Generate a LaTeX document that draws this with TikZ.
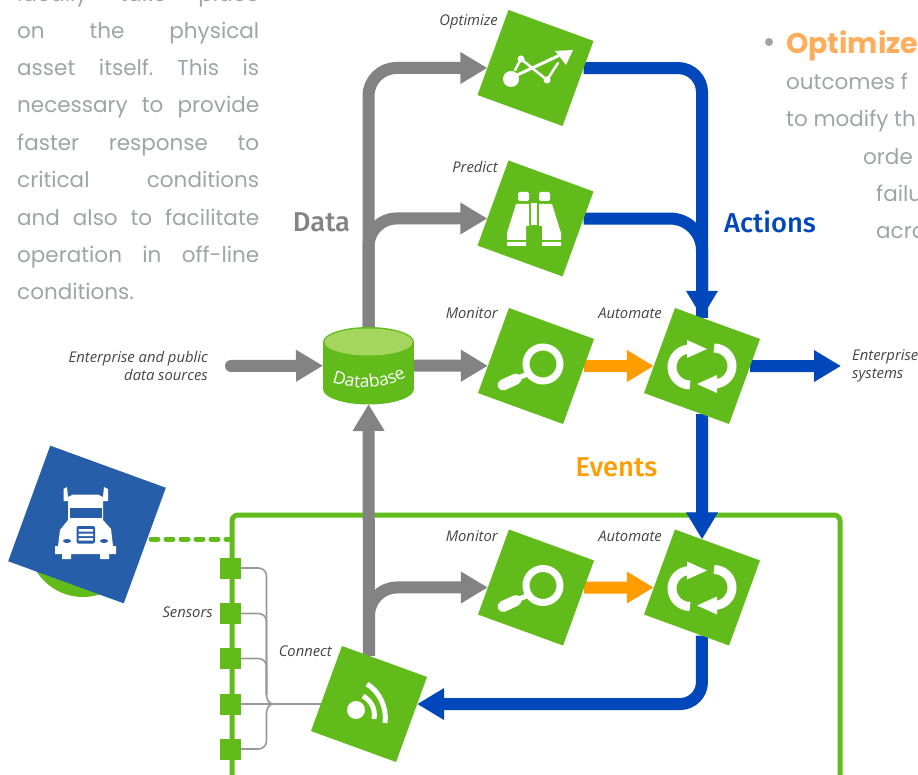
\documentclass[tikz,border=0pt]{standalone}
\usepackage{fontspec}
\usetikzlibrary{arrows.meta,backgrounds,decorations.text}
\setmainfont{Open Sans}
\newfontfamily\bodyf{Poppins}
\newfontfamily\boldf{Poppins Bold}
\newfontfamily\headf{Fira Sans Medium}
\definecolor{lime}{HTML}{61BC1B}
\definecolor{limel}{HTML}{A4D65E}
\definecolor{roy}{HTML}{0047BB}
\definecolor{truckb}{HTML}{275EAA}
\definecolor{grayl}{HTML}{838383}
\definecolor{thin}{HTML}{999999}
\definecolor{oran}{HTML}{FF9D00}
\definecolor{bodyc}{HTML}{A0A4A8}
\definecolor{optc}{HTML}{FFAD5C}
\definecolor{lab}{HTML}{444444}
\tikzset{
  sq/.style={fill=lime,rotate=-20,minimum size=90.5pt,inner sep=0pt,outer sep=0pt,draw=none},
  trucksq/.style={fill=truckb,rotate=-20,minimum size=123pt,inner sep=0pt,outer sep=0pt},
  sensor/.style={fill=lime,minimum size=21pt,inner sep=0pt,outer sep=0pt},
  lbl/.style={text=lab,font=\fontsize{14.8}{18}\selectfont\itshape,inner sep=0pt},
  bodyl/.style={text=bodyc,font=\fontsize{21.5}{24}\bodyf,inner sep=0pt,anchor=base west},
  head/.style={font=\fontsize{27.3}{30}\headf,inner sep=0pt},
  conn/.style={line width=12pt,-{Triangle[length=27pt,width=30pt]}},
  plain/.style={line width=12pt},
  wire/.style={draw=thin,line width=1.6pt,rounded corners=8pt},
  ico/.style={draw=white,line cap=round},
}
\newcommand{\jl}[1]{\makebox[242pt][s]{#1}}
\newcommand{\magicon}{%
  \draw[draw=white,line width=7pt] (7,-2) circle (17);
  \draw[draw=white,line width=5pt] (-6,7) -- (-18,12);
  \draw[draw=white,line width=11pt,line cap=round] (-20,13) -- (-33,19);
}
\newcommand{\cycicon}{%
  \draw[draw=white,line width=9pt] (-12,19) arc[start angle=-90,end angle=-270,x radius=18,y radius=-18];
  \fill[white] (-15,-26) -- (-15,-8) -- (5,-17) -- cycle;
  \draw[draw=white,line width=9pt] (12,-18) arc[start angle=90,end angle=-90,x radius=18,y radius=-18];
  \fill[white] (15,9) -- (15,27) -- (-5,18) -- cycle;
}
\begin{document}
\begin{tikzpicture}[x=1pt,y=-1pt]
\useasboundingbox (0,0) rectangle (918,775);
\clip (0,0) rectangle (918,775);
% left column text
\node[bodyl] (t0) at (17,2) {\jl{ideally\hfill take\hfill place}};
\node[bodyl] (t1) at (17,39) {\jl{on\hfill the\hfill physical}};
\node[bodyl] (t2) at (17,76) {\jl{asset\hfill itself.\hfill This\hfill is}};
\node[bodyl] (t3) at (17,113) {\jl{necessary\hfill to\hfill provide}};
\node[bodyl] (t4) at (17,151) {\jl{faster\hfill response\hfill to}};
\node[bodyl] (t5) at (17,188) {\jl{critical\hfill conditions}};
\node[bodyl] (t6) at (17,226) {\jl{and\hfill also\hfill to\hfill facilitate}};
\node[bodyl] (t7) at (17,263) {\jl{operation\hfill in\hfill off-line}};
\node[bodyl] (t8) at (17,300) {conditions.};
% right column text
\node[circle,fill=bodyc,minimum size=8pt,inner sep=0pt] (bul) at (769,42) {};
\node[inner sep=0pt,anchor=base west,text=optc,font=\fontsize{28.5}{32}\boldf] (r0) at (786,53.5) {Optimize};
\node[bodyl] (r1) at (786,90) {outcomes f};
\node[bodyl] (r2) at (786,127) {to modify th};
\node[bodyl] (r3) at (863,165) {orde};
\node[bodyl] (r4) at (876,202) {failu};
\node[bodyl] (r5) at (876,239) {acro};
% coordinates
\coordinate (ents) at (231,366);
\coordinate (entr) at (841,366);
\coordinate (tk) at (151,539);
\coordinate (fr) at (229,539);
\coordinate (j1) at (266.5,695);
\coordinate (j2) at (273.5,704);
\coordinate (j3) at (266.5,713);
% truck
\fill[lime] (83,542) circle (55);
\node[trucksq] (truck) at (87,524.5) {};
\fill[white] (63.5,489) -- (67,487) -- (68,497) -- (73,494.5) -- (98,494.5) -- (103,497) -- (104,487) -- (108,489) -- (108,501) -- (103,501) -- (103,520) -- (111,529) -- (113,546) -- (116,546) -- (116,554) -- (109,554) -- (109,559) -- (100,559) -- (100,554) -- (71,554) -- (71,559) -- (62,559) -- (62,554) -- (55,554) -- (55,546) -- (58,546) -- (60,530) -- (68,520) -- (68,501) -- (63.5,501) -- cycle;
\fill[truckb] (70,508) rectangle (102,518);
\fill[truckb,rounded corners=2pt] (76.5,526) rectangle (95,543.5);
\fill[white] (78.5,529) rectangle (93,531.5) (78.5,533.5) rectangle (93,536) (78.5,538) rectangle (93,540.5);
\fill[truckb] (67,541) ellipse (4 and 2) (104,541) ellipse (4 and 2);
% sensors
\node[sensor] (s1) at (230.5,568) {};
\node[sensor] (s2) at (230.5,613.5) {};
\node[sensor] (s3) at (230.5,658.5) {};
\node[sensor] (s4) at (230.5,704) {};
\node[sensor] (s5) at (230.5,749) {};
% database
\node[minimum width=91pt,minimum height=77pt,inner sep=0pt,outer sep=0pt] (db) at (368.5,365.5) {};
\fill[lime] (323,342) rectangle (414,389);
\fill[lime] (368.5,389) ellipse (45.5 and 15.5);
\fill[lime] (368.5,342) ellipse (45.5 and 15);
\fill[limel] (368.5,342) ellipse (44 and 13.5);
\path[decorate,decoration={text along path,text={|\fontsize{17.5}{20}\selectfont\color{white}|Database},text align=center}] (329,381) .. controls (352,391) and (385,391) .. (409,375);
% squares
\node[sq] (opt) at (535.5,68) {};
\node[sq] (pre) at (535.5,218.5) {};
\node[sq] (mon) at (536,366) {};
\node[sq] (aut) at (702,366) {};
\node[sq] (mon2) at (536,587.5) {};
\node[sq] (aut2) at (702,587.5) {};
\node[sq] (con) at (369,704) {};
% icons
\fill[white] (511,79) circle (8);
\draw[ico,line width=3pt] (515,76) -- (558,56);
\fill[white] (573,50) -- (555,51) -- (566,65) -- cycle;
\fill[white] (521,59) circle (3.5) (547,80) circle (3.5);
\draw[ico,line width=2.5pt] (515,70) -- (521,59) -- (547,80) -- (558,63);
% binoculars
\fill[white,rounded corners=1.5pt] (518,192) rectangle (529,201) (539,192) rectangle (550,201);
\fill[white] (531,203) rectangle (537,225);
\fill[white] (516,204) -- (529,204) -- (529,226) -- (526,226) -- (526,240) -- (507,240) -- (507,233) -- cycle;
\fill[white] (552,204) -- (539,204) -- (539,226) -- (542,226) -- (542,240) -- (561,240) -- (561,233) -- cycle;
\fill[white] (507,242) rectangle (526,246) (542,242) rectangle (561,246);
% magnifiers and cycles
\begin{scope}[shift={(mon)}]\magicon\end{scope}
\begin{scope}[shift={(mon2)}]\magicon\end{scope}
\begin{scope}[shift={(aut)}]\cycicon\end{scope}
\begin{scope}[shift={(aut2)}]\cycicon\end{scope}
% wifi
\fill[white] (356,710) circle (9);
\draw[draw=white,line width=5pt] (367,684) .. controls (380,692) and (387,708) .. (385,723);
\draw[draw=white,line width=5pt] (363,696) .. controls (370,700) and (376,708) .. (374,719);
% labels
\node[lbl,anchor=base east] (lo) at (498,26) {Optimize};
\node[lbl,anchor=base east] (lp) at (498,173) {Predict};
\node[lbl,anchor=base east] (lm) at (498,319) {Monitor};
\node[lbl,anchor=base east] (la) at (662,319) {Automate};
\node[lbl,anchor=base east] (lm2) at (498,541) {Monitor};
\node[lbl,anchor=base east] (la2) at (662,541) {Automate};
\node[lbl,anchor=base east] (ls) at (213,617) {Sensors};
\node[lbl,anchor=base east] (lc) at (332,656) {Connect};
\node[lbl,anchor=east,align=right] (le) at (208,366) {Enterprise and public\\data sources};
\node[lbl,anchor=west,align=left] (le2) at (852,366) {Enterprise\\systems};
\node[head,text=grayl] (hd) at (321.5,222) {Data};
\node[head,text=roy] (ha) at (770,222) {Actions};
\node[head,text=oran] (he) at (616.5,467) {Events};
% connectors
\begin{scope}[on background layer]
\draw[draw=lime,line width=5pt,rounded corners=6pt] (232,790) -- (232,515) -- (840,515) -- (840,790);
\draw[draw=lime,line width=5pt,line cap=round,dash pattern=on 7pt off 8pt] (tk) -- (fr);
\draw[wire] (s1.east) -| (j1);
\draw[wire] (s2.east) -| (j1);
\draw[wire] (s3.east) -| (j1);
\draw[wire] (s5.east) -| (j3);
\draw[draw=thin,line width=1.6pt] (j1) to[out=-90,in=180] (j2);
\draw[draw=thin,line width=1.6pt] (j3) to[out=90,in=180] (j2);
\draw[draw=thin,line width=1.6pt] (s4.east) -- (con);
\draw[conn,draw=grayl,color=grayl,line cap=round] (ents) -- (db);
\draw[conn,draw=grayl,color=grayl] (db) -- (mon);
\draw[conn,draw=grayl,color=grayl] (con) -- (db);
\draw[conn,draw=grayl,color=grayl,rounded corners=28pt] (db) |- (opt);
\draw[conn,draw=grayl,color=grayl,rounded corners=28pt] (db) |- (pre);
\draw[conn,draw=grayl,color=grayl,rounded corners=28pt] (con) |- (mon2);
\draw[conn,draw=oran,color=oran] (mon) -- (aut);
\draw[conn,draw=oran,color=oran] (mon2) -- (aut2);
\draw[conn,draw=roy,color=roy,rounded corners=24pt] (opt) -| (aut);
\draw[plain,draw=roy,rounded corners=32pt] (pre) -| (aut);
\draw[conn,draw=roy,color=roy] (aut) -- (entr);
\draw[conn,draw=roy,color=roy] (aut) -- (aut2);
\draw[conn,draw=roy,color=roy,rounded corners=22pt] (aut2) |- (con);
\end{scope}
\end{tikzpicture}
\end{document}
